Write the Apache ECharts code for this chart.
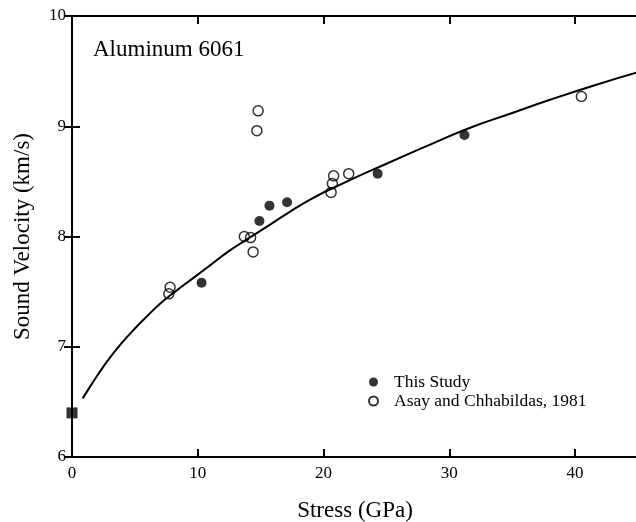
<!DOCTYPE html>
<html>
<head>
<meta charset="utf-8">
<script src="https://cdn.jsdelivr.net/npm/echarts@6/dist/echarts.min.js"></script>
<style>html,body{margin:0;padding:0;background:#fff;}#c{width:636px;height:522px;}</style>
</head>
<body>
<div id="c"></div>
<script>
// Data
var thisStudy = [[10.3, 7.58], [14.9, 8.14], [15.7, 8.28], [17.1, 8.31], [24.3, 8.57], [31.2, 8.92]];
var asay1981 = [[7.7, 7.48], [7.8, 7.54], [13.7, 8.00], [14.2, 7.99], [14.4, 7.86], [14.7, 8.96], [14.8, 9.14],
                [20.6, 8.40], [20.7, 8.48], [20.8, 8.55], [22.0, 8.57], [40.5, 9.27]];
var ambient = [[0, 6.40]];
var curveX = [0.85, 1.5, 2.2, 3, 4, 5, 6, 7, 8.2, 9.6, 11, 12.5, 14, 15.5, 17, 19, 21.5, 25, 28, 31.5, 35, 38, 41.5, 45];
var curveY = [6.53, 6.65, 6.77, 6.90, 7.04, 7.165, 7.28, 7.39, 7.50, 7.62, 7.74, 7.87, 7.98, 8.09, 8.20, 8.34, 8.48, 8.66, 8.81, 8.98, 9.12, 9.24, 9.37, 9.49];
var xTicks = [0, 10, 20, 30, 40];
var yTicks = [6, 7, 8, 9, 10];

var curve = curveX.map(function (x, i) { return [x, curveY[i]]; });
var font = 'Liberation Serif';
var axisLine = { show: true, lineStyle: { color: '#000', width: 2 } };
var tick = { show: true, inside: true, length: 8, lineStyle: { color: '#000', width: 2 } };

var chart = echarts.init(document.getElementById('c'), null, { renderer: 'canvas' });
chart.setOption({
  animation: false,
  backgroundColor: '#fff',
  grid: { left: 72, top: 16, right: -2, bottom: 65, containLabel: false, outerBoundsMode: 'none' },
  title: {
    text: 'Aluminum 6061', left: 88, top: 33,
    textStyle: { fontFamily: font, fontSize: 23, fontWeight: 'normal', color: '#000' }
  },
  legend: {
    orient: 'vertical', left: 363, top: 368, itemWidth: 9, itemHeight: 9, itemGap: 1,
    data: ['This Study', 'Asay and Chhabildas, 1981'],
    textStyle: { fontFamily: font, fontSize: 17.5, color: '#000', lineHeight: 17, padding: [0, 0, 0, 11] }
  },
  xAxis: [{
    type: 'value', min: 0, max: 45, interval: 10, position: 'bottom',
    name: 'Stress (GPa)', nameLocation: 'middle', nameGap: 42,
    nameTextStyle: { fontFamily: font, fontSize: 23, color: '#000' },
    axisLine: axisLine, axisTick: tick, splitLine: { show: false },
    axisLabel: { fontFamily: font, fontSize: 17, color: '#000', margin: 8,
      formatter: function (v) { return xTicks.indexOf(v) >= 0 ? String(v) : ''; } }
  }, {
    type: 'value', min: 0, max: 45, interval: 10, position: 'top',
    axisLine: axisLine, axisTick: tick, axisLabel: { show: false }, splitLine: { show: false }
  }],
  yAxis: [{
    type: 'value', min: 6, max: 10, interval: 1, position: 'left',
    name: 'Sound Velocity (km/s)', nameLocation: 'middle', nameGap: 38,
    nameTextStyle: { fontFamily: font, fontSize: 23, color: '#000' },
    axisLine: axisLine, axisTick: tick, splitLine: { show: false },
    axisLabel: { fontFamily: font, fontSize: 17, color: '#000', margin: 6,
      formatter: function (v) { return yTicks.indexOf(v) >= 0 ? String(v) : ''; } }
  }, {
    type: 'value', min: 6, max: 10, interval: 1, position: 'right',
    axisLine: axisLine, axisTick: tick, axisLabel: { show: false }, splitLine: { show: false }
  }],
  series: [{
    name: 'fit', type: 'line', data: curve, smooth: 0.5, showSymbol: false, symbol: 'none',
    lineStyle: { color: '#000', width: 2 }, z: 2
  }, {
    name: 'This Study', type: 'scatter', data: thisStudy, symbol: 'circle', symbolSize: 10,
    itemStyle: { color: '#000' }, z: 3
  }, {
    name: 'Asay and Chhabildas, 1981', type: 'scatter', data: asay1981, symbol: 'circle', symbolSize: 10,
    itemStyle: { color: 'rgba(255,255,255,0)', borderColor: '#000', borderWidth: 1.5 }, z: 3
  }, {
    name: 'ambient', type: 'scatter', data: ambient, symbol: 'rect', symbolSize: 11,
    itemStyle: { color: '#000' }, z: 4
  }]
});
</script>
</body>
</html>
